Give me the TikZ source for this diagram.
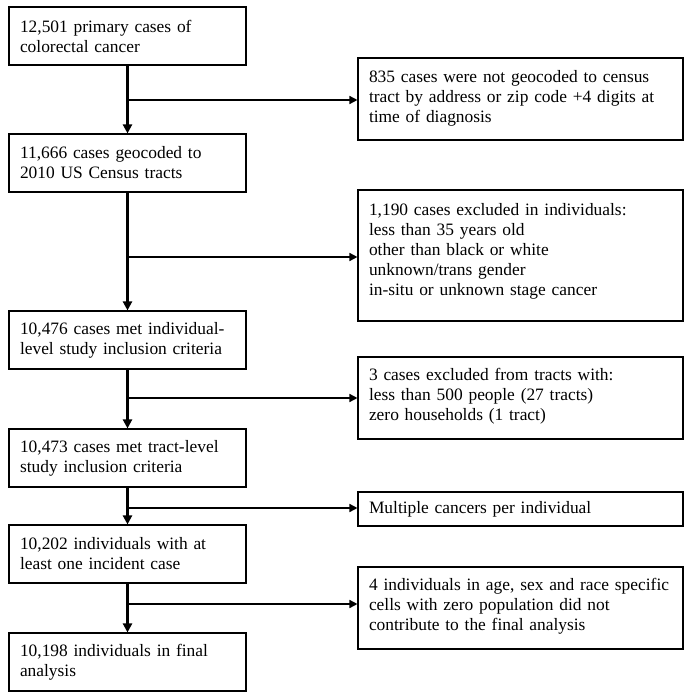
\documentclass[tikz,border=0pt]{standalone}
\usepackage{fontspec}
\setmainfont{Liberation Serif}
\usetikzlibrary{arrows.meta}
\begin{document}
\begin{tikzpicture}[x=1pt,y=-1pt,
  every node/.style={font=\fontsize{17.4}{20}\selectfont},
  lbox/.style={draw, line width=1.1pt, minimum width=237pt, minimum height=58pt, text width=215pt, align=left, inner xsep=11pt, inner ysep=0pt},
  rbox/.style={draw, line width=1.1pt, minimum width=325pt, text width=303pt, align=left, inner xsep=11pt, inner ysep=0pt},
  vflow/.style={line width=2.2pt, -{Triangle[length=9pt,width=9pt]}},
  hflow/.style={line width=1.5pt, -{Triangle[length=8pt,width=8pt]}}
]
\useasboundingbox (0,0) rectangle (691,700);
\node[lbox] (L1) at (127.5,36) {12,501 primary cases of\\colorectal cancer};
\node[lbox] (L2) at (127.5,163) {11,666 cases geocoded to\\2010 US Census tracts};
\node[lbox] (L3) at (127.5,340) {10,476 cases met individual-\\level study inclusion criteria};
\node[lbox] (L4) at (127.5,458) {10,473 cases met tract-level\\study inclusion criteria};
\node[lbox] (L5) at (127.5,554) {10,202 individuals with at\\least one incident case};
\node[lbox] (L6) at (127.5,662) {10,198 individuals in final\\analysis};

\node[rbox, minimum height=82pt] (R1) at (520.5,99) {835 cases were not geocoded to census\\tract by address or zip code +4 digits at\\time of diagnosis\vphantom{p}\rule[-6pt]{0pt}{1pt}};
\node[rbox, minimum height=131pt] (R2) at (520.5,255.5) {1,190 cases excluded in individuals:\\less than 35 years old\\other than black or white\\unknown/trans gender\\in-situ or unknown stage cancer\rule[-12pt]{0pt}{1pt}};
\node[rbox, minimum height=82pt] (R3) at (520.5,398) {3 cases excluded from tracts with:\\less than 500 people (27 tracts)\\zero households (1 tract)\rule[-8pt]{0pt}{1pt}};
\node[rbox, minimum height=34pt] (R4) at (520.5,509) {Multiple cancers per individual};
\node[rbox, minimum height=82pt] (R5) at (520.5,608) {4 individuals in age, sex and race specific\\cells with zero population did not\\contribute to the final analysis\rule[-8pt]{0pt}{1pt}};

\foreach \a/\b in {L1/L2,L2/L3,L3/L4,L4/L5,L5/L6}{
  \draw[vflow] (\a.south) -- (\b.north);
}
\coordinate (b1) at (129,100);
\coordinate (b2) at (129,257);
\coordinate (b3) at (129,398);
\coordinate (b4) at (129,508);
\coordinate (b5) at (129,604);
\draw[hflow] (b1) -- (b1 -| R1.west);
\draw[hflow] (b2) -- (b2 -| R2.west);
\draw[hflow] (b3) -- (b3 -| R3.west);
\draw[hflow] (b4) -- (b4 -| R4.west);
\draw[hflow] (b5) -- (b5 -| R5.west);
\end{tikzpicture}
\end{document}
